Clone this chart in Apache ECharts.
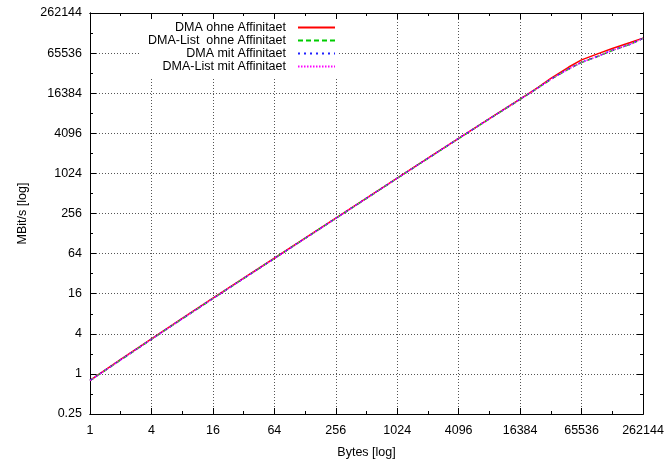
<!DOCTYPE html>
<html>
<head>
    <meta charset="utf-8">
    <title>DMA Durchsatz</title>
    <script src="https://cdn.jsdelivr.net/npm/echarts@6/dist/echarts.min.js"></script>
    <style>
        html, body { margin: 0; padding: 0; background: #fff; }
    </style>
</head>
<body>
    <div id="main" style="width: 669px;height:464px;"></div>
    <script type="text/javascript">
        // Messwerte (Bytes -> MBit/s)
        var bytes = [1, 2, 4, 8, 16, 32, 64, 128, 256, 512, 1024, 2048, 4096, 8192, 12288, 16384, 24576, 32768, 49152, 65536, 98304, 131072, 196608, 262144];
        var dmaOhne = [0.8, 1.65, 3.35, 6.8, 13.7, 27.3, 54.5, 109, 218, 437, 872, 1740, 3450, 6800, 10100, 13400, 20000, 27300, 40500, 51900, 65500, 77000, 94500, 110000];
        var dmaListOhne = [0.79, 1.62, 3.3, 6.7, 13.5, 27, 54, 108, 216, 432, 865, 1720, 3420, 6750, 10000, 13200, 19700, 26400, 37800, 47300, 59800, 71800, 88800, 109000];
        var dmaMit = [0.8, 1.64, 3.33, 6.75, 13.6, 27.2, 54.3, 108.5, 217, 435, 868, 1730, 3440, 6780, 10050, 13300, 19800, 26600, 38200, 47800, 60200, 72200, 89200, 109500];
        var dmaListMit = [0.79, 1.63, 3.31, 6.72, 13.5, 27.1, 54, 108, 216, 433, 866, 1725, 3430, 6760, 10020, 13250, 19750, 26500, 38000, 47500, 60000, 72000, 89000, 109200];
        var names = ['DMA ohne Affinitaet', 'DMA-List  ohne Affinitaet', 'DMA mit Affinitaet', 'DMA-List mit Affinitaet'];

        var font = 'Liberation Sans, Arial, sans-serif';

        function pairs(ys) {
            return bytes.map(function (b, i) { return [b, ys[i]]; });
        }
        function fmt(v) {
            if (v < 1) return String(Math.round(v * 100) / 100);
            return String(Math.round(v));
        }

        // Achse mit Beschriftung + Hauptticks, oder nur Ticks (Spiegel / Nebenticks)
        function axis(pos, min, max, base, opts) {
            return Object.assign({
                type: 'log',
                position: pos,
                logBase: base,
                min: min,
                max: max,
                interval: 1,
                axisLine: { show: true, onZero: false, lineStyle: { color: '#000', width: 1 } },
                axisTick: { show: true, inside: true, length: base === 4 ? 6 : 3, lineStyle: { color: '#000', width: 1 } },
                axisLabel: { show: false },
                splitLine: { show: false },
                minorTick: { show: false }
            }, opts || {});
        }

        var myChart = echarts.init(document.getElementById('main'));
        var gridLine = { show: true, lineStyle: { color: '#555', type: [1, 2], width: 1 } };
        var labelStyle = { show: true, color: '#000', fontFamily: font, fontSize: 12.5, formatter: fmt };

        var option = {
            animation: false,
            backgroundColor: '#fff',
            grid: { left: 90, right: 26, top: 13, bottom: 40 },
            legend: {
                orient: 'vertical',
                align: 'right',
                right: 330,
                top: 19,
                padding: [2, 3, 6, 8],
                backgroundColor: '#fff',
                itemWidth: 37,
                itemHeight: 12,
                itemGap: 0,
                itemStyle: { opacity: 0 },
                textStyle: { fontFamily: font, fontSize: 12.5, lineHeight: 13, color: '#000', padding: [0, 7, 0, 0] },
                data: names
            },
            xAxis: [
                axis('bottom', 1, 262144, 4, {
                    name: 'Bytes [log]', nameLocation: 'middle', nameGap: 32,
                    nameTextStyle: { fontFamily: font, fontSize: 12.5, color: '#000' },
                    axisLabel: Object.assign({ margin: 10 }, labelStyle),
                    splitLine: gridLine
                }),
                axis('bottom', 1, 262144, 2),
                axis('top', 1, 262144, 4),
                axis('top', 1, 262144, 2)
            ],
            yAxis: [
                axis('left', 0.25, 262144, 4, {
                    name: 'MBit/s [log]', nameLocation: 'middle', nameGap: 61,
                    nameTextStyle: { fontFamily: font, fontSize: 12.5, color: '#000' },
                    axisLabel: Object.assign({ margin: 8 }, labelStyle),
                    splitLine: gridLine
                }),
                axis('left', 0.25, 262144, 2),
                axis('right', 0.25, 262144, 4),
                axis('right', 0.25, 262144, 2)
            ],
            series: [
                { name: names[0], type: 'line', symbol: 'none', data: pairs(dmaOhne), lineStyle: { color: '#ff0000', width: 1.5 }, itemStyle: { color: '#ff0000' } },
                { name: names[1], type: 'line', symbol: 'none', data: pairs(dmaListOhne), lineStyle: { color: '#00cc00', width: 1.5, type: [5, 3] }, itemStyle: { color: '#00cc00' } },
                { name: names[2], type: 'line', symbol: 'none', data: pairs(dmaMit), lineStyle: { color: '#2020ff', width: 1.5, type: [2, 4] }, itemStyle: { color: '#2020ff' } },
                { name: names[3], type: 'line', symbol: 'none', data: pairs(dmaListMit), lineStyle: { color: '#ff00ff', width: 1.5, type: [1.5, 1.5] }, itemStyle: { color: '#ff00ff' } }
            ]
        };

        myChart.setOption(option);
    </script>
</body>
</html>
